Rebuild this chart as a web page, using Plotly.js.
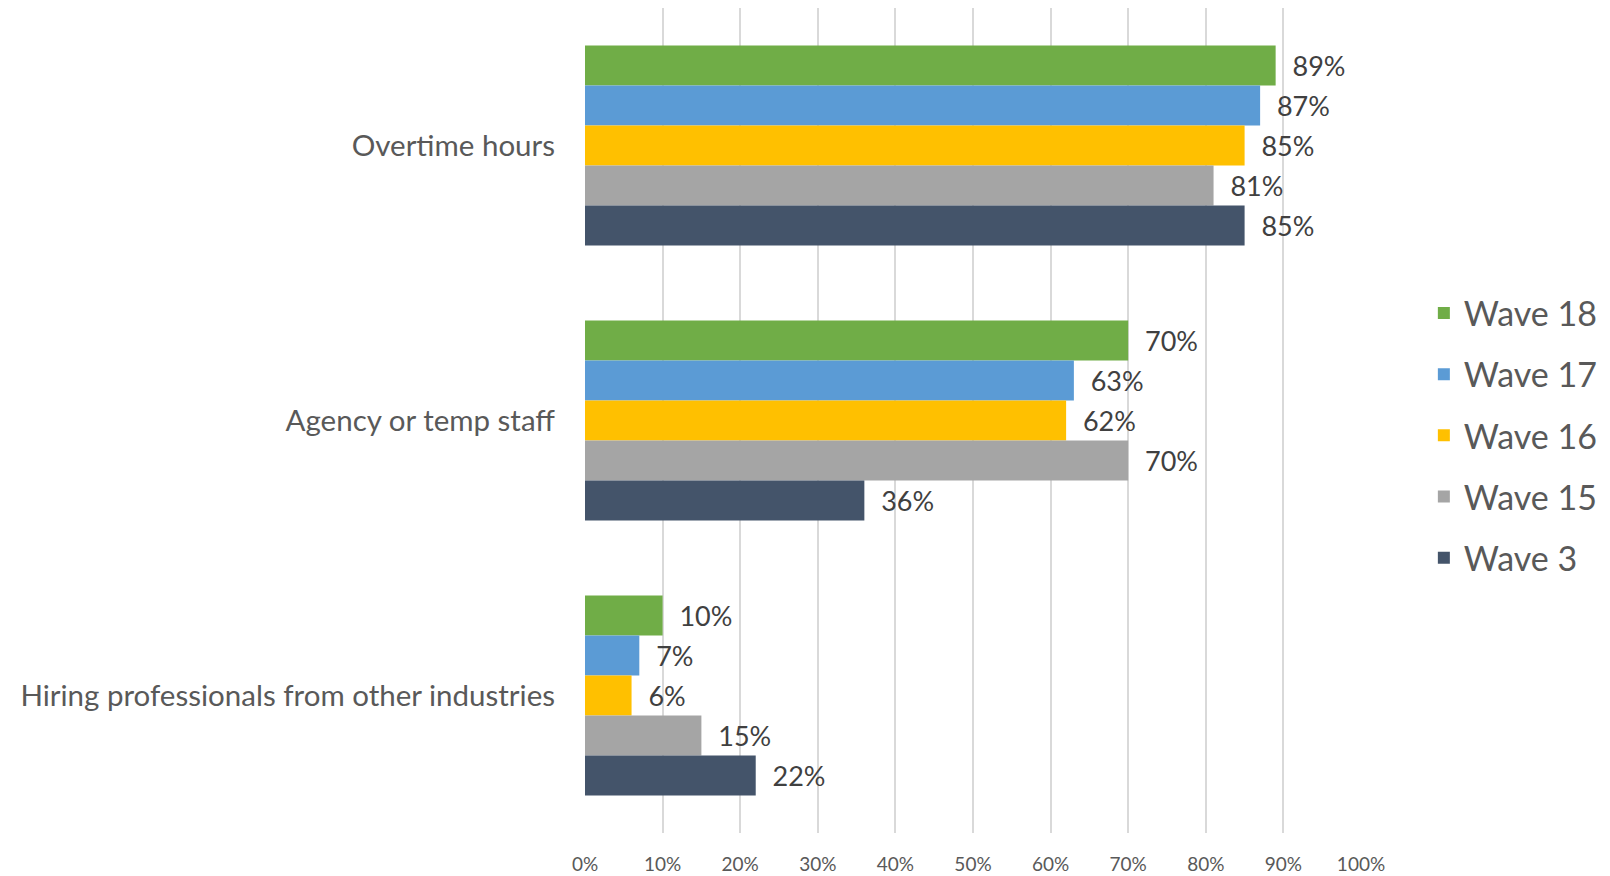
<!DOCTYPE html>
<html>
<head>
<meta charset="utf-8">
<script src="https://cdn.plot.ly/plotly-3.0.1.min.js"></script>
<style>html,body{margin:0;padding:0;background:#fff;}#chart{width:1610px;height:876px;}</style>
</head>
<body>
<div id="chart"></div>
<script>
const categories = ["Overtime hours", "Agency or temp staff", "Hiring professionals from other industries"];
const seriesNames = ["Wave 18", "Wave 17", "Wave 16", "Wave 15", "Wave 3"];
const wave18 = [0.89, 0.70, 0.10];
const wave17 = [0.87, 0.63, 0.07];
const wave16 = [0.85, 0.62, 0.06];
const wave15 = [0.81, 0.70, 0.15];
const wave3  = [0.85, 0.36, 0.22];
const xTickVals = [0, 0.1, 0.2, 0.3, 0.4, 0.5, 0.6, 0.7, 0.8, 0.9, 1.0];
const xTickText = ["0%", "10%", "20%", "30%", "40%", "50%", "60%", "70%", "80%", "90%", "100%"];

const colors = ["#70AD47", "#5B9BD5", "#FFC000", "#A5A5A5", "#44546A"];
const seriesValues = [wave18, wave17, wave16, wave15, wave3];
const FONT = "Lato, 'Open Sans', sans-serif";

const traces = seriesValues.map((vals, i) => ({
  type: "bar",
  orientation: "h",
  name: seriesNames[i],
  y: categories,
  x: vals,
  marker: {color: colors[i]},
  text: vals.map(v => "\u00a0\u00a0" + Math.round(v * 100) + "%"),
  textposition: "outside",
  textfont: {family: FONT, size: 27, color: "#404040"},
  cliponaxis: false,
  legendgroup: "g" + i,
  hoverinfo: "x+name"
}));

const layout = {
  width: 1610,
  height: 876,
  margin: {l: 585, r: 249, t: 8, b: 43},
  paper_bgcolor: "#fff",
  plot_bgcolor: "#fff",
  barmode: "group",
  bargap: 0.273,
  bargroupgap: 0,
  font: {family: FONT, color: "#595959"},
  xaxis: {
    range: [0, 1],
    tickvals: xTickVals,
    ticktext: xTickText,
    showgrid: true,
    gridcolor: "#D9D9D9",
    gridwidth: 2,
    zeroline: false,
    showline: false,
    tickfont: {family: FONT, size: 19, color: "#595959"},
    ticklabelstandoff: 18,
    fixedrange: true
  },
  yaxis: {
    autorange: "reversed",
    showgrid: false,
    zeroline: false,
    showline: false,
    tickfont: {family: FONT, size: 29.5, color: "#595959"},
    ticklabelstandoff: 29,
    fixedrange: true
  },
  legend: {
    x: 1.081, xanchor: "left",
    y: 0.482, yanchor: "middle",
    font: {family: FONT, size: 34, color: "#595959"},
    traceorder: "grouped",
    tracegroupgap: 14,
    itemwidth: 30,
    bgcolor: "rgba(0,0,0,0)"
  },
  showlegend: true
};

Plotly.newPlot("chart", traces, layout, {displayModeBar: false, staticPlot: true});
</script>
</body>
</html>
